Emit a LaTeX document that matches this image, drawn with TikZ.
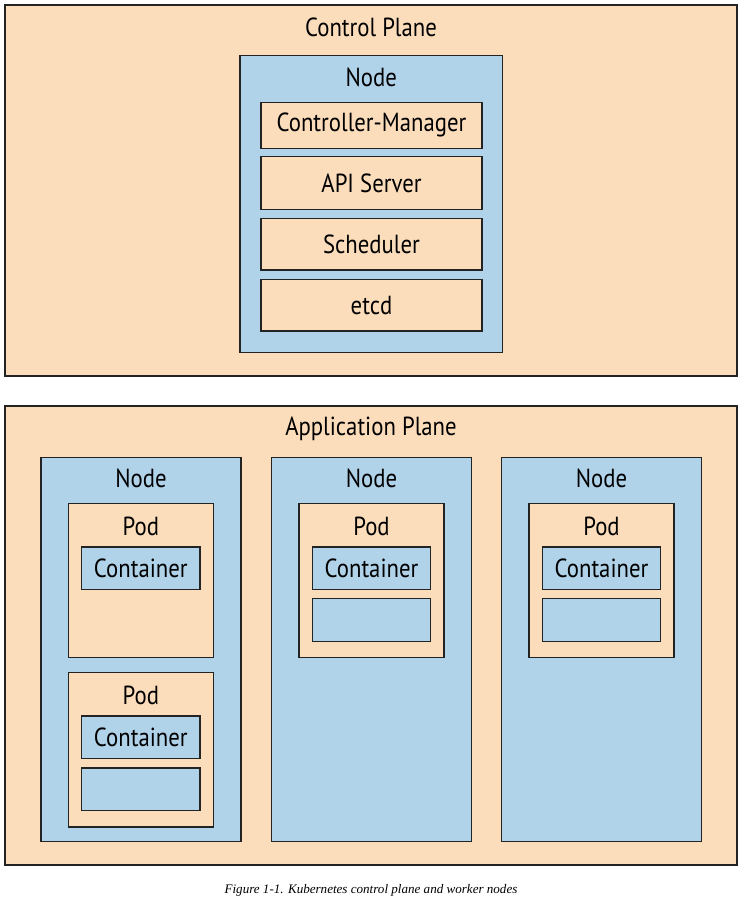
\documentclass[tikz,border=0pt]{standalone}
\usepackage{fontspec}
\setmainfont{PT Sans}[FakeStretch=0.87]
\newfontfamily\captionfont{Liberation Serif}
\usepackage{xcolor}
\usepackage{tikz}
\usetikzlibrary{positioning}

\definecolor{peach}{RGB}{252,221,187}
\definecolor{paleblue}{RGB}{176,211,234}
\definecolor{edge}{RGB}{35,35,35}

\begin{document}
\begin{tikzpicture}[
  every node/.style={font=\fontsize{18.6}{22}\selectfont},
  plane/.style={draw=edge, line width=1pt, fill=peach, inner sep=0pt, minimum width=18.3cm},
  host/.style={draw=edge, line width=1pt, fill=paleblue, inner sep=0pt},
  part/.style={draw=edge, line width=1pt, fill=peach, inner sep=0pt, minimum width=5.525cm},
  pod/.style={draw=edge, line width=1pt, fill=peach, inner sep=0pt, minimum width=3.625cm, minimum height=3.86cm},
  ctr/.style={draw=edge, line width=1pt, fill=paleblue, inner sep=0pt, minimum width=2.96cm, minimum height=1.07cm},
  title/.style={inner sep=0pt}
]
\useasboundingbox (0,0) rectangle (18.525,-22.5);

% Control plane
\node[plane, minimum height=9.275cm] (cp) at (9.275, -4.7625) {};
\node[title] (cptitle) at (9.275, -0.675) {Control Plane};

\node[host, minimum width=6.5625cm, minimum height=7.425cm] (cpnode) at (9.28, -5.105) {};
\node[title] (cpnodetitle) at (9.28, -1.925) {Node};

\node[part, minimum height=1.15cm] (cm) at (9.2875, -3.1325) {Controller-Manager};
\node[part, minimum height=1.315cm] (api) at (9.2875, -4.575) {API Server};
\node[part, minimum height=1.29cm] (sched) at (9.2875, -6.104) {Scheduler};
\node[part, minimum height=1.29cm] (etcd) at (9.2875, -7.629) {etcd};

% Application plane
\node[plane, minimum height=11.475cm] (ap) at (9.275, -15.8875) {};
\node[title] (aptitle) at (9.275, -10.725) {Application Plane};

% Worker 1: two pods
\node[host, minimum width=5cm, minimum height=9.61cm] (wa) at (3.525, -16.2375) {};
\node[title] (watitle) at (3.525, -11.95) {Node};
\node[pod] (wapoda) at (3.52, -14.5125) {};
\node[title] at (3.52, -13.15) {Pod};
\node[ctr] (waca) at (3.52, -14.209) {Container};
\node[pod] (wapodb) at (3.52, -18.7425) {};
\node[title] at (3.52, -17.375) {Pod};
\node[ctr] (wacb) at (3.52, -18.434) {Container};
\node[ctr] (wacc) at (3.52, -19.734) {};

% Worker 2
\node[host, minimum width=5cm, minimum height=9.61cm] (wb) at (9.2875, -16.2375) {};
\node[title] (wbtitle) at (9.2875, -11.95) {Node};
\node[pod] (wbpod) at (9.2875, -14.5125) {};
\node[title] at (9.2875, -13.15) {Pod};
\node[ctr] (wbca) at (9.2875, -14.209) {Container};
\node[ctr] (wbcb) at (9.2875, -15.5) {};

% Worker 3
\node[host, minimum width=5cm, minimum height=9.61cm] (wc) at (15.0375, -16.2375) {};
\node[title] (wctitle) at (15.0375, -11.95) {Node};
\node[pod] (wcpod) at (15.0375, -14.5125) {};
\node[title] at (15.0375, -13.15) {Pod};
\node[ctr] (wcca) at (15.0375, -14.209) {Container};
\node[ctr] (wccb) at (15.0375, -15.5) {};

% Caption
\node[font=\captionfont\itshape\fontsize{9.3}{11}\selectfont] (caption) at (9.275, -22.25)
   {Figure 1-1. Kubernetes control plane and worker nodes};

\end{tikzpicture}
\end{document}
